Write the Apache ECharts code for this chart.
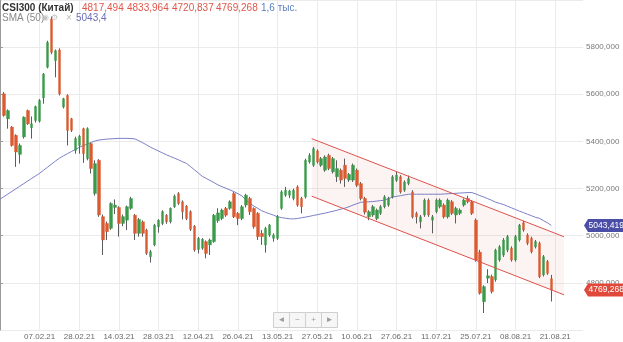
<!DOCTYPE html>
<html><head><meta charset="utf-8">
<script src="https://cdn.jsdelivr.net/npm/echarts@6/dist/echarts.min.js"></script>
<style>html,body{margin:0;padding:0;background:#fff}#c{width:623px;height:342px}</style>
</head><body><div id="c"></div>
<script>
// ---- data ----
const tickIndex = [10,20,30,40,50,60,70,80,90,100,110,120,130,140];
const tickLabels = ['07.02.21','28.02.21','14.03.21','28.03.21','12.04.21','26.04.21','13.05.21','27.05.21','10.06.21','27.06.21','11.07.21','25.07.21','08.08.21','21.08.21'];
const yTicks = [4800,5000,5200,5400,5600,5800];
const opens = [null,5602,5496,5461,5426,5345,5419,5531,5458,5489,5486,5585,5715,5919,5743,5788,5546,5595,5496,5362,5383,5454,5327,5391,5179,5320,5081,5052,5031,5120,5120,5052,5066,5116,5087,5010,5059,5024,4911,4961,5038,5052,5087,5059,5123,5179,5144,5126,5102,5041,4942,4947,4975,4961,4975,5064,5073,5116,5116,5179,5095,5073,5130,5158,5116,5095,5010,4961,5003,4989,4989,5116,5172,5172,5158,5207,5158,5165,5313,5299,5360,5299,5278,5341,5271,5250,5278,5299,5236,5236,5278,5221,5158,5080,5088,5073,5095,5123,5130,5165,5235,5250,5193,5221,5186,5095,5059,5088,5151,5066,5102,5123,5130,5080,5144,5088,5095,5130,5158,5144,5066,4930,4720,4820,4827,4813,4897,4918,4939,4947,4897,4982,5055,5003,4989,4953,4968,4834,4890,4817.494];
const closes = [null,5510,5531,5383,5355,5383,5503,5475,5475,5548,5574,5686,5820,5778,5785,5602,5581,5447,5447,5412,5422,5348,5454,5285,5306,5088,4982,5017,5137,5130,5052,5081,5123,5158,5010,5069,5010,4925,4932,5045,5066,5102,5059,5116,5168,5137,5102,5073,5027,4939,4989,4985,4925,4982,5087,5097,5109,5087,5144,5080,5073,5123,5172,5102,5038,4996,4996,5031,5045,5003,5081,5186,5193,5190,5193,5130,5123,5320,5341,5369,5313,5327,5334,5285,5327,5285,5236,5243,5260,5299,5214,5158,5100,5102,5123,5109,5123,5165,5158,5250,5257,5186,5228,5242,5080,5080,5080,5151,5088,5080,5151,5151,5080,5151,5095,5116,5109,5151,5144,5095,4897,4756,4784,4830,4763,4939,4953,4982,4996,4897,4996,5045,5024,4968,4932,4975,4827,4911,4841,4769.268];
const lows = [null,5505,5454,5378,5292,5306,5412,5470,5412,5480,5480,5560,5710,5770,5672,5595,5540,5383,5440,5348,5348,5309,5320,5264,5170,5080,4918,4982,5025,5092,4996,5040,5024,5110,4982,4996,4996,4918,4886,4955,5013,5045,5050,5052,5118,5130,5069,5066,5020,4932,4925,4940,4904,4918,4970,5055,5066,5080,5110,5075,5045,5066,5120,5088,5030,4982,4961,4928,4995,4975,4982,5110,5165,5160,5150,5123,5095,5158,5306,5292,5306,5292,5271,5278,5264,5228,5221,5207,5228,5228,5207,5150,5090,5066,5080,5066,5088,5116,5123,5158,5228,5179,5186,5214,5073,5052,5031,5080,5080,5010,5095,5116,5073,5073,5088,5052,5088,5123,5137,5088,4890,4750,4672,4799,4755,4805,4890,4910,4930,4890,4890,4975,5017,4960,4925,4946,4820,4827,4834,4720.837];
const highs = [null,5610,5536,5465,5430,5391,5506,5535,5506,5552,5580,5690,5827,5930,5790,5795,5585,5600,5500,5420,5428,5458,5460,5395,5320,5325,5090,5060,5142,5154,5125,5090,5128,5165,5092,5075,5065,5030,4940,5050,5070,5108,5092,5120,5175,5185,5150,5130,5108,5045,4995,4990,4980,4988,5092,5116,5115,5122,5150,5185,5100,5130,5178,5165,5120,5100,5024,5038,5050,5010,5088,5193,5207,5195,5200,5214,5165,5327,5350,5376,5366,5334,5341,5348,5334,5320,5285,5327,5266,5306,5285,5228,5165,5108,5130,5115,5130,5172,5165,5257,5271,5257,5235,5255,5193,5102,5088,5158,5158,5088,5158,5158,5137,5158,5151,5123,5116,5158,5170,5151,5073,4940,4790,4858,4835,4945,4960,4990,5003,4955,5003,5050,5063,5010,4996,4982,4975,4918,4897,4833.964];
const sma50 = [5155,5166,5177,5188,5199,5210,5221,5232,5243,5254,5265,5278,5291,5304,5317,5329,5339,5348,5357,5366,5375,5382,5389,5396,5402,5406,5408,5410,5411,5412,5413,5413,5413,5412,5411,5403,5394,5385,5375,5367,5359,5351,5343,5336,5329,5322,5314,5307,5294,5280,5266,5252,5243,5234,5225,5215,5208,5201,5194,5187,5178,5169,5152,5137,5126,5116,5106,5099,5093,5087,5080,5077,5074,5072,5071,5073,5076,5079,5082,5086,5089,5093,5096,5100,5104,5108,5113,5117,5123,5130,5136,5142,5143,5144,5145,5147,5149,5151,5158,5164,5167,5170,5173,5176,5176,5176,5176,5176,5176,5176,5176,5176,5177,5178,5179,5180,5181,5182,5183,5183,5177,5170,5164,5157,5150,5142,5137,5132,5125,5118,5111,5104,5098,5091,5085,5078,5074,5064,5055,5043.4];
const channelX = [78.6, 142.2];
const channelUpper = [5411.8, 4995.8];
const channelLower = [5167.8, 4749.3];
const lastPrice = 4769.268;
const lastSma = 5043.419;

// ---- build ----
const FONT = '"Liberation Sans", Arial, sans-serif';
const NCAT = 148;
const categories = Array.from({length: NCAT}, (_, i) => String(i));
const tickMap = {};
tickIndex.forEach((t, j) => { tickMap[t] = tickLabels[j]; });
const fmt = v => Number(v).toFixed(3).replace('.', ',');
const EMPTY = ['-','-','-','-'];
const wickData = opens.map((o, i) => o == null ? EMPTY : [o, closes[i], lows[i], highs[i]]);
const bodyData = opens.map((o, i) => o == null ? EMPTY : [o, closes[i], Math.min(o, closes[i]), Math.max(o, closes[i])]);
const UP = '#3b9a4a', DOWN = '#da5a31', WICK = '#5c5c5c';

const chart = echarts.init(document.getElementById('c'));
chart.setOption({
  animation: false,
  backgroundColor: '#fff',
  grid: {left: 0, top: 0, width: 583, height: 330},
  xAxis: [{
    type: 'category', data: categories, boundaryGap: false,
    axisLine: {show: false}, axisTick: {show: false},
    axisLabel: {interval: (i) => tickMap[i] !== undefined, formatter: (v, i) => tickMap[i] || '',
      color: '#6a6a6a', fontSize: 8, fontFamily: FONT, margin: 3},
    splitLine: {show: true, interval: (i) => tickMap[i] !== undefined, lineStyle: {color: '#ebebeb', width: 1}}
  }, {
    type: 'value', min: 0, max: NCAT - 1, show: false
  }],
  yAxis: {
    type: 'value', position: 'right', min: 4600, max: 6000, interval: 200,
    axisLine: {show: true, lineStyle: {color: '#9a9a9a'}},
    axisTick: {show: true, length: 3, lineStyle: {color: '#9a9a9a'}},
    axisLabel: {color: '#7a7a7a', fontSize: 8, fontFamily: FONT, margin: 3, formatter: fmt,
      showMinLabel: false, showMaxLabel: false},
    splitLine: {lineStyle: {color: '#ebebeb'}}
  },
  series: [
    {type: 'custom', xAxisIndex: 1, silent: true, z: 1,
      data: [[channelX[0], channelUpper[0]]],
      renderItem: (params, api) => {
        const pts = [
          api.coord([channelX[0], channelUpper[0]]), api.coord([channelX[1], channelUpper[1]]),
          api.coord([channelX[1], channelLower[1]]), api.coord([channelX[0], channelLower[0]])];
        return {type: 'polygon', shape: {points: pts}, style: {fill: 'rgba(222,120,120,0.09)'}};
      }},
    {type: 'line', name: 'SMA (50)', data: sma50, symbol: 'none', z: 2,
      lineStyle: {color: '#7b7fc6', width: 1}},
    {type: 'candlestick', data: wickData, barWidth: 1, z: 3,
      itemStyle: {color: WICK, color0: WICK, borderColor: WICK, borderColor0: WICK, borderWidth: 1}},
    {type: 'candlestick', data: bodyData, barWidth: 3, z: 4,
      itemStyle: {color: UP, color0: DOWN, borderColor: UP, borderColor0: DOWN, borderWidth: 0.4}},
    {type: 'line', xAxisIndex: 1, symbol: 'none', z: 5,
      data: [[channelX[0], channelUpper[0]], [channelX[1], channelUpper[1]]],
      lineStyle: {color: '#e0524c', width: 1}},
    {type: 'line', xAxisIndex: 1, symbol: 'none', z: 5,
      data: [[channelX[0], channelLower[0]], [channelX[1], channelLower[1]]],
      lineStyle: {color: '#e0524c', width: 1}}
  ]
});

function tag(value, color) {
  const y = chart.convertToPixel({yAxisIndex: 0}, value);
  return [
    {type: 'polygon', z: 100, shape: {points: [[584, y], [588, y - 6.5], [623, y - 6.5], [623, y + 6.5], [588, y + 6.5]]},
      style: {fill: color}},
    {type: 'text', z: 101, x: 588.5, y: y, style: {text: fmt(value), fill: '#fff', font: '8.5px ' + FONT, verticalAlign: 'middle'}}
  ];
}
const hdr = [
  {t: 'CSI300 (Китай)', x: 2, y: 8, c: '#333', b: true},
  {t: '4817,494', x: 82, y: 8, c: '#e0564a'},
  {t: '4833,964', x: 127, y: 8, c: '#e0564a'},
  {t: '4720,837', x: 172, y: 8, c: '#e0564a'},
  {t: '4769,268', x: 216, y: 8, c: '#e0564a'},
  {t: '1,6 тыс.', x: 261, y: 8, c: '#5b7fc0'},
  {t: 'SMA (50)', x: 2, y: 18, c: '#888'},
  {t: '◉ ⚙', x: 42, y: 18, c: '#c4c4c4', s: 8},
  {t: '×', x: 66, y: 18, c: '#bbb'},
  {t: '5043,4', x: 76, y: 18, c: '#6a6db8'}
];
const graphics = hdr.map(h => ({type: 'text', z: 50, x: h.x, y: h.y,
  style: {text: h.t, fill: h.c, verticalAlign: 'middle', font: (h.b ? 'bold ' : '') + (h.s || 10) + 'px ' + FONT}}));
const navGlyphs = ['◄', '−', '+', '►'];
navGlyphs.forEach((g, j) => {
  graphics.push({type: 'rect', z: 50, shape: {x: 273.5 + 16 * j, y: 312.5, width: 16, height: 15},
    style: {fill: '#f6f6f6', stroke: '#cfcfcf', lineWidth: 1}});
  graphics.push({type: 'text', z: 51, x: 281.5 + 16 * j, y: 320, style: {text: g, fill: '#9a9a9a',
    font: '8px ' + FONT, align: 'center', verticalAlign: 'middle'}});
});
chart.setOption({graphic: graphics.concat(tag(lastSma, '#4b4ea6'), tag(lastPrice, '#e0483a'))});
</script></body></html>
